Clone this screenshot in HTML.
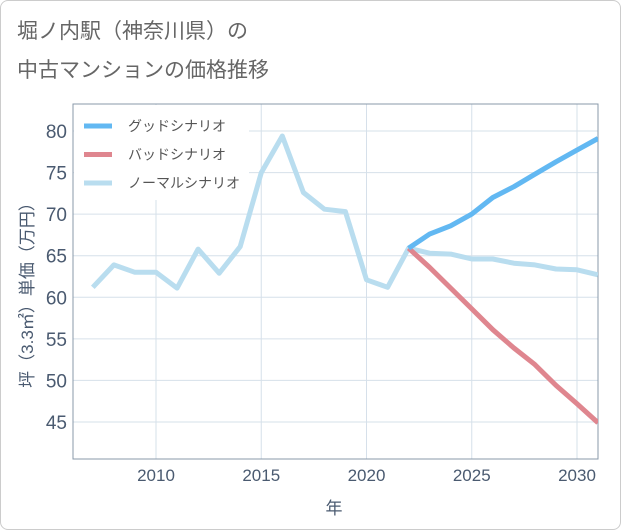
<!DOCTYPE html>
<html><head><meta charset="utf-8"><style>
body{margin:0;background:#fff;font-family:"Liberation Sans","Noto Sans CJK JP",sans-serif;}
#wrap{position:relative;width:619px;height:528px;border:1px solid #ccc;border-radius:8px;overflow:hidden;}
</style></head><body>
<div id="wrap">
<svg id="chart" width="619" height="528"></svg>
</div>
<script>
const years=[2007,2008,2009,2010,2011,2012,2013,2014,2015,2016,2017,2018,2019,2020,2021,2022,2023,2024,2025,2026,2027,2028,2029,2030,2031];
const normalValues=[61.2,63.9,63.0,63.0,61.1,65.8,62.9,66.1,75.0,79.4,72.6,70.6,70.3,62.1,61.2,65.9,65.3,65.2,64.6,64.6,64.1,63.9,63.4,63.3,62.7];
const futureYears=[2022,2023,2024,2025,2026,2027,2028,2029,2030,2031];
const goodValues=[65.9,67.6,68.6,70.0,72.0,73.3,74.8,76.3,77.7,79.1];
const badValues=[65.9,63.6,61.1,58.6,56.1,53.9,51.9,49.4,47.2,44.9];
const yTicks=[45,50,55,60,65,70,75,80];
const xTicks=[2010,2015,2020,2025,2030];
const NS="http://www.w3.org/2000/svg";
const svg=document.getElementById('chart');
const L=72,R=597,T=103,B=458;
const xs=v=>155+(v-2010)*(576-155)/20;
const ys=v=>130+(80-v)*(421-130)/35;
function mk(tag,attrs,parent){const e=document.createElementNS(NS,tag);for(const k in attrs)e.setAttribute(k,attrs[k]);(parent||svg).appendChild(e);return e;}
function txt(s,attrs){const e=mk('text',attrs);e.textContent=s;return e;}
let t=txt('堀ノ内駅（神奈川県）の',{x:16,y:37,'font-size':21,fill:'#666'});


t=txt('中古マンションの価格推移',{x:16,y:76,'font-size':21,fill:'#666'});


yTicks.forEach(v=>{
 const g=mk('line',{x1:L,x2:R,y1:ys(v),y2:ys(v),stroke:'#d6e0ea','stroke-width':1});
 
 
 const l=txt(String(v),{x:L-6,y:ys(v)+7,'font-size':19,fill:'#4a5a70','text-anchor':'end'});
 
 
});
xTicks.forEach(v=>{
 const g=mk('line',{x1:xs(v),x2:xs(v),y1:T,y2:B,stroke:'#d6e0ea','stroke-width':1});
 
 
 const l=txt(String(v),{x:xs(v),y:B+22,'font-size':17,fill:'#4a5a70','text-anchor':'middle'});
 
 
});
const fr=mk('rect',{x:L,y:T,width:R-L,height:B-T,fill:'none',stroke:'#8899aa','stroke-width':1});


const xt=txt('年',{x:333,y:513,'font-size':17,fill:'#4a5a70','text-anchor':'middle'});


const yt=txt('坪（3.3㎡）単価（万円）',{x:0,y:0,'font-size':17,fill:'#4a5a70','text-anchor':'middle',transform:'translate(32,290) rotate(-90)'});


function line(xv,yv,color,name){
 const d=xv.map((x,i)=>(i?'L':'M')+xs(x).toFixed(1)+','+ys(yv[i]).toFixed(1)).join('');
 const p=mk('path',{d,fill:'none',stroke:color,'stroke-width':5,'stroke-linejoin':'round','clip-path':'url(#clip)'});
 
 
}
const defs=mk('defs',{});const cp=mk('clipPath',{id:'clip'},defs);mk('rect',{x:L,y:T,width:R-L,height:B-T},cp);
line(years,normalValues,'#b9ddef','normal-scenario-line');
line(futureYears,badValues,'#df868f','bad-scenario-line');
line(futureYears,goodValues,'#62b8f2','good-scenario-line');
const lg=mk('rect',{x:L+1,y:T+1,width:175,height:95,fill:'#fff'});


[['グッドシナリオ','#62b8f2'],['バッドシナリオ','#df868f'],['ノーマルシナリオ','#b9ddef']].forEach((e,i)=>{
 const y=125+i*28.5;
 const s=mk('line',{x1:83,x2:111,y1:y,y2:y,stroke:e[1],'stroke-width':5});
 
 
 const l=txt(e[0],{x:127,y:y+5,'font-size':14,fill:'#555'});
 
 
});
</script>
</body></html>
